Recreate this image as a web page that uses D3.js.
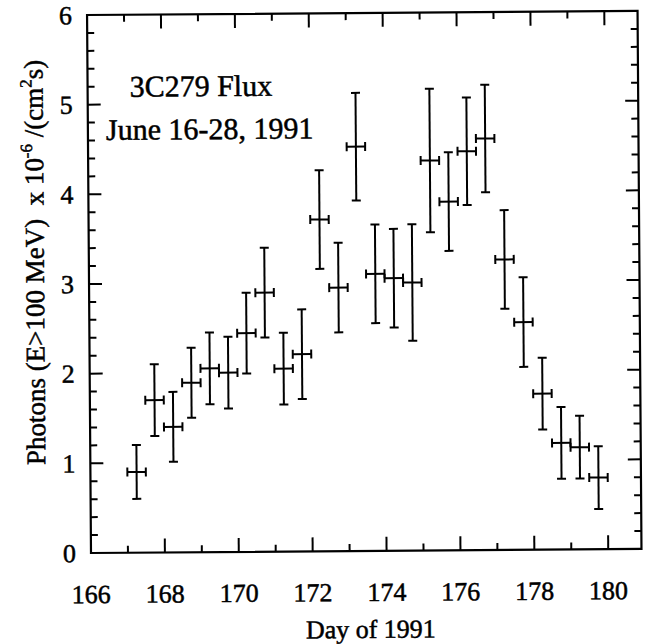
<!DOCTYPE html>
<html>
<head>
<meta charset="utf-8">
<script src="https://cdn.jsdelivr.net/npm/d3@7"></script>
<style>
  html, body { margin: 0; padding: 0; background: #fff; }
  svg { display: block; }
  text { font-family: "Liberation Serif", "Times New Roman", serif; fill: #000; stroke: #000; stroke-width: 0.5px; }
</style>
</head>
<body>
<svg id="chart" width="651" height="644"></svg>
<script>
// Half-day bins of the 3C279 gamma-ray light curve
const days = [167.25, 167.75, 168.25, 168.75, 169.25, 169.75, 170.25, 170.75,
              171.25, 171.75, 172.25, 172.75, 173.25, 173.75, 174.25, 174.75,
              175.25, 175.75, 176.25, 176.75, 177.25, 177.75, 178.25, 178.75,
              179.25, 179.75];
const dayHalfWidth = 0.25;
const flux = [0.90, 1.70, 1.40, 1.89, 2.05, 2.00, 2.44, 2.89,
              2.04, 2.20, 3.70, 2.94, 4.51, 3.09, 3.04, 2.99,
              4.35, 3.89, 4.45, 4.59, 3.24, 2.54, 1.74, 1.19,
              1.14, 0.80];
const fluxErr = [0.30, 0.40, 0.39, 0.39, 0.40, 0.40, 0.45, 0.50,
                 0.40, 0.50, 0.55, 0.50, 0.60, 0.55, 0.55, 0.65,
                 0.80, 0.55, 0.60, 0.60, 0.55, 0.50, 0.40, 0.40,
                 0.35, 0.35];
const xTickLabels = [166, 168, 170, 172, 174, 176, 178, 180];
const yTickLabels = [0, 1, 2, 3, 4, 5, 6];

const svg = d3.select("#chart");
const plotLeft = 91, plotRight = 641.5, plotTop = 15, plotBottom = 553;

const x = d3.scaleLinear().domain([166, 180.9]).range([plotLeft, plotRight]);
const y = d3.scaleLinear().domain([0, 6]).range([plotBottom, plotTop]);

// the printed frame sits at a very slight tilt
const g = svg.append("g").attr("transform", `rotate(-0.42, ${plotLeft}, ${plotBottom})`);

const majorX = 14, minorX = 7, majorY = 13, minorY = 7;
const stroke = "#000";

// frame
g.append("rect")
  .attr("x", plotLeft).attr("y", plotTop)
  .attr("width", plotRight - plotLeft).attr("height", plotBottom - plotTop)
  .attr("fill", "none").attr("stroke", stroke).attr("stroke-width", 2.2);

// x ticks (every day, long on even days) on bottom and top
const xTicks = d3.range(167, 181);
g.append("g").selectAll("line").data(xTicks).join("line")
  .attr("x1", d => x(d)).attr("x2", d => x(d))
  .attr("y1", plotBottom).attr("y2", d => plotBottom - (d % 2 === 0 ? majorX : minorX))
  .attr("stroke", stroke).attr("stroke-width", 2);
g.append("g").selectAll("line").data(xTicks).join("line")
  .attr("x1", d => x(d)).attr("x2", d => x(d))
  .attr("y1", plotTop).attr("y2", d => plotTop + (d % 2 === 0 ? majorX : minorX))
  .attr("stroke", stroke).attr("stroke-width", 2);

// y ticks (every 0.2, long on integers) on left and right
const yTicks = d3.range(1, 30).map(i => i / 5);
const isMajorY = d => Math.abs(d - Math.round(d)) < 1e-6;
g.append("g").selectAll("line").data(yTicks).join("line")
  .attr("x1", plotLeft).attr("x2", d => plotLeft + (isMajorY(d) ? majorY : minorY))
  .attr("y1", d => y(d)).attr("y2", d => y(d))
  .attr("stroke", stroke).attr("stroke-width", 2);
g.append("g").selectAll("line").data(yTicks).join("line")
  .attr("x1", plotRight).attr("x2", d => plotRight - (isMajorY(d) ? majorY : minorY))
  .attr("y1", d => y(d)).attr("y2", d => y(d))
  .attr("stroke", stroke).attr("stroke-width", 2);

// tick labels
g.append("g").selectAll("text").data(xTickLabels).join("text")
  .attr("x", d => x(d)).attr("y", 603)
  .attr("text-anchor", "middle").attr("font-size", 26)
  .text(d => d);
g.append("g").selectAll("text").data(yTickLabels).join("text")
  .attr("x", 76).attr("y", d => y(d) + 9)
  .attr("text-anchor", "end").attr("font-size", 26)
  .text(d => d);

// axis titles
g.append("text")
  .attr("x", (plotLeft + plotRight) / 2 + 4).attr("y", 640)
  .attr("text-anchor", "middle").attr("font-size", 26)
  .text("Day of 1991");

const yTitle = g.append("text")
  .attr("transform", `translate(46, ${(plotTop + plotBottom) / 2 - 22}) rotate(-90)`)
  .attr("text-anchor", "middle").attr("font-size", 27)
  .attr("xml:space", "preserve");
yTitle.append("tspan").text("Photons (E>100 MeV)  x 10");
yTitle.append("tspan").attr("dy", -11).attr("font-size", 17).text("-6");
yTitle.append("tspan").attr("dy", 11).text(" /(cm");
yTitle.append("tspan").attr("dy", -11).attr("font-size", 17).text("2");
yTitle.append("tspan").attr("dy", 11).text("s)");

// annotation
g.append("text").attr("x", 133).attr("y", 97).attr("font-size", 30).text("3C279 Flux");
g.append("text").attr("x", 109).attr("y", 140).attr("font-size", 30).text("June 16-28, 1991");

// error bars
const pts = days.map((d, i) => ({ day: d, f: flux[i], e: fluxErr[i] }));
const capV = 4.5, capH = 4.5;
const bars = g.append("g").attr("stroke", stroke).attr("stroke-width", 2).attr("fill", "none");
const pt = bars.selectAll("g").data(pts).join("g");
// vertical flux error
pt.append("line")
  .attr("x1", d => x(d.day)).attr("x2", d => x(d.day))
  .attr("y1", d => y(d.f - d.e)).attr("y2", d => y(d.f + d.e));
pt.append("line")
  .attr("x1", d => x(d.day) - capH).attr("x2", d => x(d.day) + capH)
  .attr("y1", d => y(d.f + d.e)).attr("y2", d => y(d.f + d.e));
pt.append("line")
  .attr("x1", d => x(d.day) - capH).attr("x2", d => x(d.day) + capH)
  .attr("y1", d => y(d.f - d.e)).attr("y2", d => y(d.f - d.e));
// horizontal bin width
pt.append("line")
  .attr("x1", d => x(d.day - dayHalfWidth)).attr("x2", d => x(d.day + dayHalfWidth))
  .attr("y1", d => y(d.f)).attr("y2", d => y(d.f));
pt.append("line")
  .attr("x1", d => x(d.day - dayHalfWidth)).attr("x2", d => x(d.day - dayHalfWidth))
  .attr("y1", d => y(d.f) - capV).attr("y2", d => y(d.f) + capV);
pt.append("line")
  .attr("x1", d => x(d.day + dayHalfWidth)).attr("x2", d => x(d.day + dayHalfWidth))
  .attr("y1", d => y(d.f) - capV).attr("y2", d => y(d.f) + capV);
</script>
</body>
</html>
